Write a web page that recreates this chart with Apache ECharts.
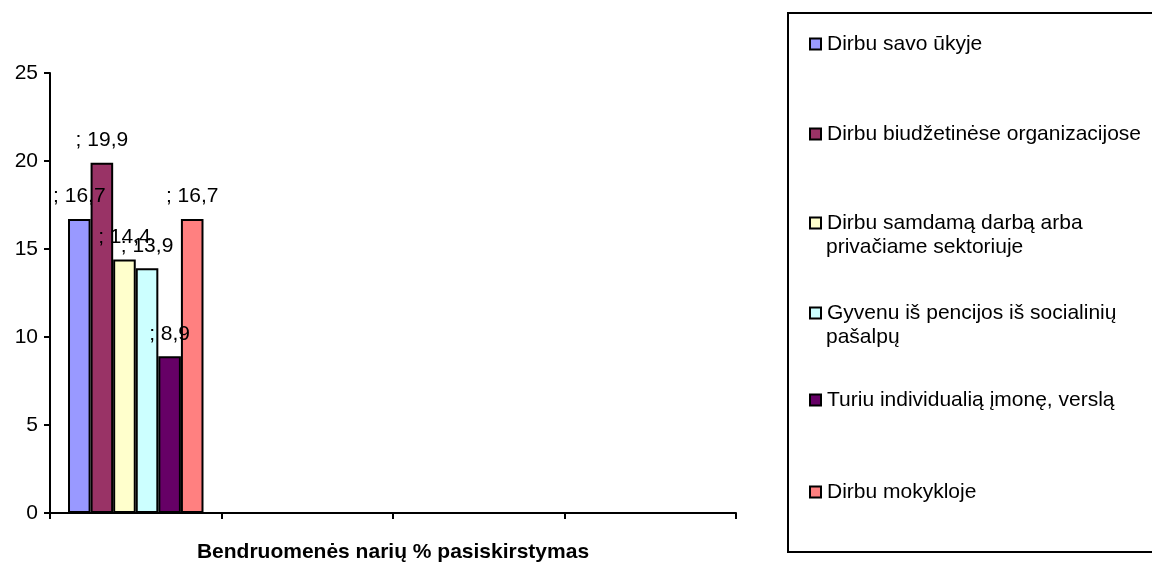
<!DOCTYPE html>
<html lang="lt">
<head>
    <meta charset="UTF-8">
    <title>Bendruomenės narių pasiskirstymas</title>
    <style>
        body{
            margin: 0;
            background-color: #ffffff;
        }
        #chart{
            width: 1152px;
            height: 565px;
        }
    </style>
    <script src="https://cdn.jsdelivr.net/npm/echarts@6/dist/echarts.min.js"></script>
</head>
<body>
<div id="chart"></div>
<script type="text/javascript">
    // duomenys
    var categories = ['', '', '', ''];
    var seriesNames = [
        'Dirbu savo ūkyje',
        'Dirbu biudžetinėse organizacijose',
        'Dirbu samdamą darbą arba\nprivačiame sektoriuje',
        'Gyvenu iš pencijos iš socialinių\npašalpų',
        'Turiu individualią įmonę, verslą',
        'Dirbu mokykloje'
    ];
    var seriesValues = [16.7, 19.9, 14.4, 13.9, 8.9, 16.7];
    var colors = ['#9999FF', '#993366', '#FFFFCC', '#CCFFFF', '#660066', '#FF8080'];
    var yTicks = [0, 5, 10, 15, 20, 25];

    var font = 'Liberation Sans, Arial, sans-serif';
    var fs = 21;
    var legendTops = [44, 134, 223, 313, 400, 492];

    var series = [];
    var legends = [];
    var graphics = [{
        type: 'rect',
        shape: {x: 788, y: 13, width: 400, height: 539},
        style: {fill: 'none', stroke: '#000', lineWidth: 2},
        silent: true
    }];

    for (var i = 0; i < seriesNames.length; i++) {
        var data = [seriesValues[i]];
        for (var k = 1; k < categories.length; k++) data.push('-');
        series.push({
            name: seriesNames[i],
            type: 'bar',
            data: data,
            barGap: '0%',
            barCategoryGap: '21%',
            itemStyle: {color: colors[i], borderColor: '#000', borderWidth: 2},
            label: {
                show: true,
                position: 'top',
                distance: 12,
                color: '#000',
                fontFamily: font,
                fontSize: fs,
                formatter: function (p) {
                    return '; ' + String(p.value).replace('.', ',');
                }
            }
        });
        var lines = seriesNames[i].split('\n');
        legends.push({
            data: [seriesNames[i]],
            left: 809,
            top: legendTops[i] - 12,
            padding: 0,
            icon: 'rect',
            itemWidth: 11,
            itemHeight: 11,
            selectedMode: false,
            formatter: function (name) { return name.split('\n')[0]; },
            textStyle: {color: '#000', fontFamily: font, fontSize: fs, lineHeight: 24, padding: [0, 0, 0, 1]}
        });
        if (lines.length > 1) {
            graphics.push({
                type: 'text',
                left: 826,
                top: legendTops[i] + 26 - 12,
                style: {text: lines[1], fill: '#000', font: fs + 'px ' + font}
            });
        }
    }

    var option = {
        animation: false,
        textStyle: {fontFamily: font},
        grid: {left: 50, right: 416, top: 73, bottom: 52, outerBoundsMode: 'none'},
        legend: legends,
        graphic: graphics,
        xAxis: {
            type: 'category',
            data: categories,
            name: 'Bendruomenės narių % pasiskirstymas',
            nameLocation: 'middle',
            nameGap: 29,
            nameTextStyle: {color: '#000', fontWeight: 'bold', fontSize: fs, fontFamily: font},
            axisLine: {lineStyle: {color: '#000', width: 2}},
            axisTick: {show: true, length: 6, lineStyle: {color: '#000', width: 2}},
            axisLabel: {show: false}
        },
        yAxis: {
            type: 'value',
            min: yTicks[0],
            max: yTicks[yTicks.length - 1],
            interval: 5,
            axisLine: {show: true, lineStyle: {color: '#000', width: 2}},
            axisTick: {show: true, length: 6, lineStyle: {color: '#000', width: 2}},
            splitLine: {show: false},
            axisLabel: {color: '#000', fontSize: fs, fontFamily: font, margin: 12}
        },
        series: series
    };

    var chart = echarts.init(document.getElementById('chart'));
    chart.setOption(option);
</script>
</body>
</html>
